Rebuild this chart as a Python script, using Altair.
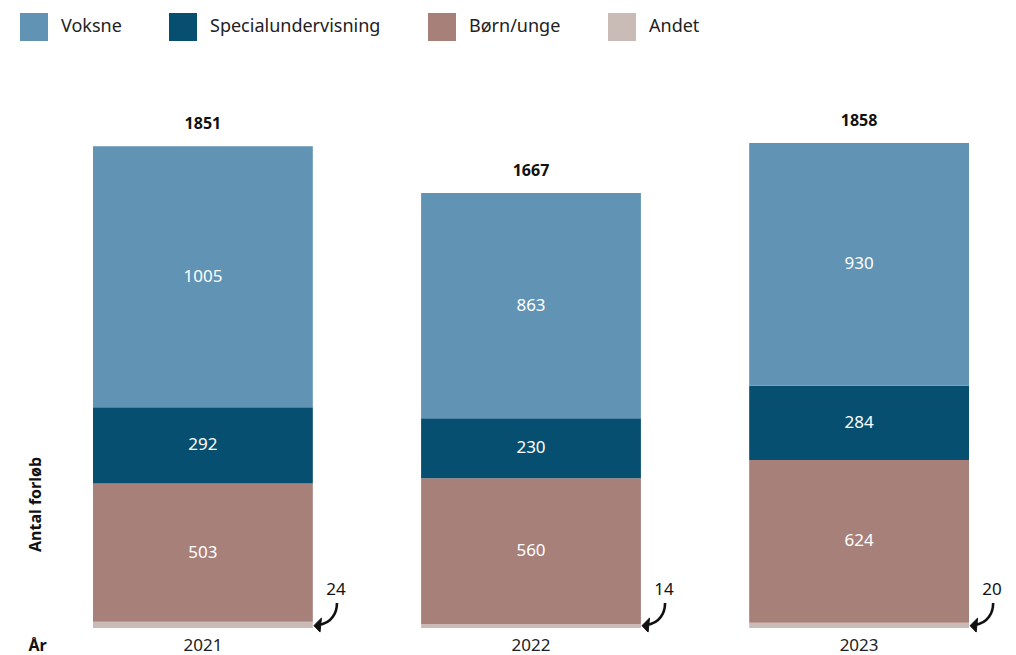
import altair as alt
import pandas as pd

years = ["2021", "2022", "2023"]
categories = ["Voksne", "Specialundervisning", "Børn/unge", "Andet"]
colors = ["#6193b4", "#074f70", "#a8807a", "#c9bcb7"]

# segment heights as drawn
voksne = [1000, 863, 930]
special = [292, 230, 284]
born = [530, 560, 624]
andet = [24, 14, 20]

# printed labels
voksne_lbl = ["1005", "863", "930"]
special_lbl = ["292", "230", "284"]
born_lbl = ["503", "560", "624"]
andet_lbl = ["24", "14", "20"]
total_lbl = ["1851", "1667", "1858"]

stack_order = {"Andet": 0, "Børn/unge": 1, "Specialundervisning": 2, "Voksne": 3}

rows = []
for i, y in enumerate(years):
    base = 0
    for cat, vals, lbls in [("Andet", andet, andet_lbl), ("Børn/unge", born, born_lbl),
                            ("Specialundervisning", special, special_lbl), ("Voksne", voksne, voksne_lbl)]:
        v = vals[i]
        rows.append({"year": y, "cat": cat, "value": v, "y0": base, "y1": base + v,
                     "mid": base + v / 2, "label": lbls[i], "ord": stack_order[cat]})
        base += v
df = pd.DataFrame(rows)

tot = pd.DataFrame({"year": years,
                    "total": [voksne[i] + special[i] + born[i] + andet[i] for i in range(3)],
                    "label": total_lbl})
small = pd.DataFrame({"year": years, "zero": [0, 0, 0], "label": andet_lbl})

FONT = "Noto Sans"

xenc = alt.X("year:N", scale=alt.Scale(paddingInner=0.33, paddingOuter=0),
             axis=alt.Axis(title="År", labelAngle=0, ticks=False, domain=False, labelPadding=9,
                           labelFontSize=17, labelColor="#222", labelFont=FONT,
                           titleX=-56, titleY=17, titleAlign="center", titleBaseline="middle",
                           titleFontSize=16, titleFontWeight="bold", titleFont=FONT, titleColor="#111"))
yscale = alt.Scale(domain=[0, 2000])

bars = alt.Chart(df).mark_bar().encode(
    x=xenc,
    y=alt.Y("y0:Q", scale=yscale,
            axis=alt.Axis(title="Antal forløb", labels=False, ticks=False, domain=False, grid=False,
                          titleX=-58, titleY=398, titleAngle=270, titleAlign="center",
                          titleBaseline="middle", titleFontSize=16, titleFontWeight="bold",
                          titleFont=FONT, titleColor="#111")),
    y2="y1:Q",
    color=alt.Color("cat:N", scale=alt.Scale(domain=categories, range=colors),
                    legend=alt.Legend(title=None, orient="none", direction="horizontal",
                                      legendX=-73, legendY=-93, columnPadding=47,
                                      symbolType="square", symbolSize=784,
                                      symbolStrokeWidth=0, symbolOpacity=1,
                                      labelFontSize=18, labelFont=FONT, labelColor="#222",
                                      labelOffset=13, labelLimit=400)),
)

seg_labels = alt.Chart(df[df["cat"] != "Andet"]).mark_text(
    color="white", fontSize=17, font=FONT, baseline="middle").encode(
    x="year:N", y=alt.Y("mid:Q", scale=yscale), text="label:N")

totals = alt.Chart(tot).mark_text(
    color="#111", fontSize=16, fontWeight="bold", font=FONT, baseline="middle", dy=-22).encode(
    x="year:N", y=alt.Y("total:Q", scale=yscale), text="label:N")

small_lbl = alt.Chart(small).mark_text(
    color="#111", fontSize=17, font=FONT, baseline="middle", dx=133, dy=-38).encode(
    x="year:N", y=alt.Y("zero:Q", scale=yscale), text="label:N")

ARROW_STEM = "M0.79,-0.86 C0.79,-0.2 0.45,0.6 -0.55,0.72"
ARROW_HEAD = "M-0.86,0.76 L-0.32,0.22 L-0.42,1.22 Z"

arrow_stem = alt.Chart(small).mark_point(
    shape=ARROW_STEM, size=784, filled=False, stroke="#111", strokeWidth=2.6, opacity=1,
    xOffset=123, yOffset=-13).encode(
    x="year:N", y=alt.Y("zero:Q", scale=yscale))

arrow_head = alt.Chart(small).mark_point(
    shape=ARROW_HEAD, size=784, filled=True, fill="#111", stroke="#111", strokeWidth=1,
    opacity=1, xOffset=123, yOffset=-13).encode(
    x="year:N", y=alt.Y("zero:Q", scale=yscale))

chart = alt.layer(bars, seg_labels, totals, small_lbl, arrow_stem, arrow_head).properties(
    width=876, height=522,
    padding={"left": 85, "top": 98, "right": 39, "bottom": 27},
    autosize=alt.AutoSizeParams(type="none"),
).configure_view(stroke=None)

chart.save("out.html", embed_options={"renderer": "svg", "actions": False})
